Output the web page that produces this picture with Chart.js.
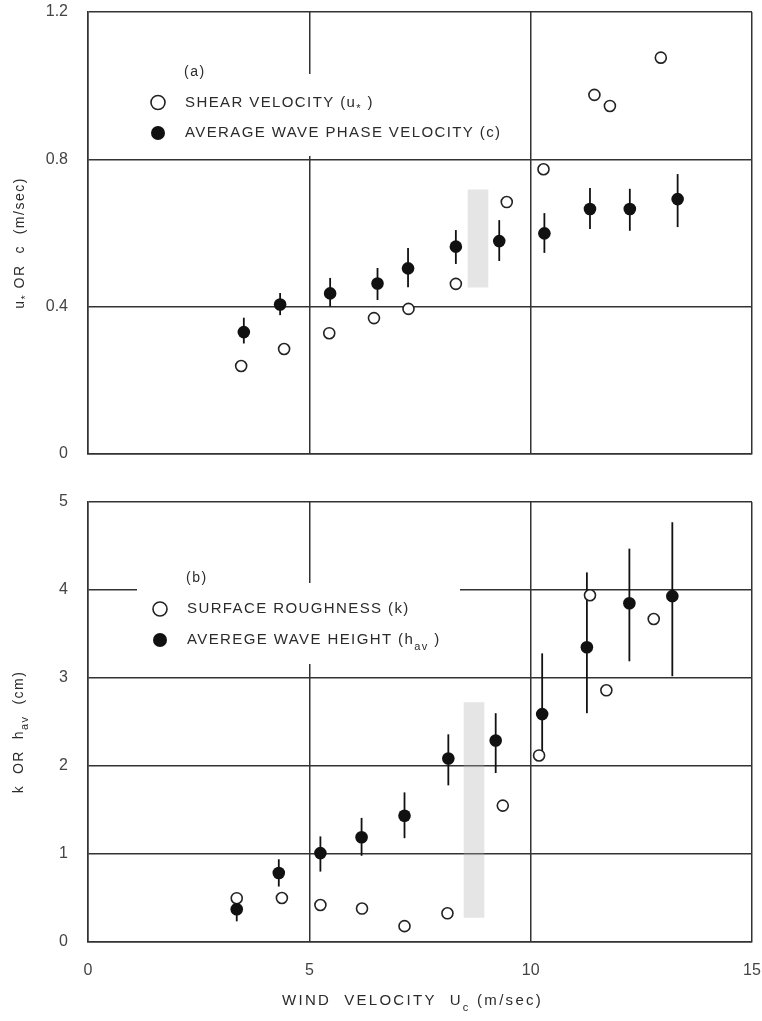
<!DOCTYPE html>
<html>
<head>
<meta charset="utf-8">
<script src="https://cdn.jsdelivr.net/npm/chart.js@4.4.0/dist/chart.umd.min.js"></script>
<style>
  html, body { margin: 0; padding: 0; background: #fff; }
  #wrap { position: relative; width: 762px; height: 1021px; }
  .panel { position: absolute; left: 0; width: 762px; }
  #pa { top: 0; height: 470px; }
  #pb { top: 480px; height: 541px; }
</style>
</head>
<body>
<div id="wrap">
  <div class="panel" id="pa"><canvas id="chartA"></canvas></div>
  <div class="panel" id="pb"><canvas id="chartB"></canvas></div>
</div>
<script>
// ---- data, panel (a) ----
const windPhase = [3.52, 4.34, 5.47, 6.54, 7.23, 8.31, 9.29, 10.31, 11.34, 12.24, 13.32];
const phaseVel  = [0.331, 0.406, 0.436, 0.463, 0.504, 0.563, 0.578, 0.599, 0.665, 0.665, 0.692];
const phaseLow  = [0.300, 0.377, 0.400, 0.418, 0.453, 0.516, 0.524, 0.546, 0.611, 0.606, 0.616];
const phaseHigh = [0.370, 0.437, 0.478, 0.505, 0.559, 0.608, 0.635, 0.654, 0.722, 0.720, 0.760];
const windShear = [3.46, 4.43, 5.45, 6.46, 7.24, 8.31, 9.46, 10.29, 11.44, 11.79, 12.94];
const shearVel  = [0.239, 0.285, 0.328, 0.369, 0.394, 0.462, 0.684, 0.773, 0.975, 0.945, 1.076];
const bandXA = 8.81;
const bandYA = [0.453, 0.717];

// ---- data, panel (b) ----
const windHeight = [3.36, 4.31, 5.25, 6.18, 7.15, 8.14, 9.21, 10.26, 11.27, 12.23, 13.20];
const waveHeight = [0.373, 0.784, 1.01, 1.19, 1.434, 2.086, 2.29, 2.59, 3.35, 3.85, 3.93];
const heightLow  = [0.235, 0.63, 0.80, 0.98, 1.18, 1.78, 1.92, 2.13, 2.60, 3.19, 3.02];
const heightHigh = [0.51, 0.94, 1.20, 1.41, 1.70, 2.36, 2.60, 3.28, 4.20, 4.47, 4.77];
const windRough  = [3.36, 4.38, 5.25, 6.19, 7.15, 8.12, 9.37, 10.19, 11.34, 11.71, 12.78];
const roughness  = [0.498, 0.50, 0.42, 0.38, 0.18, 0.326, 1.55, 2.12, 3.94, 2.86, 3.67];
const bandXB = 8.72;
const bandYB = [0.28, 2.72];

// ---- tick labels ----
const xTicks  = ['0', '5', '10', '15'];
const yTicksA = ['0', '0.4', '0.8', '1.2'];
const yTicksB = ['0', '1', '2', '3', '4', '5'];

const FONT = '"Liberation Sans", Arial, Helvetica, sans-serif';
const INK = '#2b2b2b';
const GRID = '#333';

function toPoints(xs, ys) {
    return xs.map((x, i) => ({ x: x, y: ys[i] }));
}

// draw text made of parts, some of them subscripts; returns width
function richText(ctx, parts, x, y, size, spacing, measureOnly) {
    let w = 0;
    parts.forEach(p => {
        const s = p.sub ? Math.round(size * 0.75) : size;
        ctx.font = s + 'px ' + FONT;
        ctx.letterSpacing = spacing + 'px';
        if (!measureOnly) ctx.fillText(p.t, x + w, p.sub ? y + size * 0.45 : y);
        w += ctx.measureText(p.t).width;
    });
    ctx.letterSpacing = '0px';
    return w;
}

// no auto padding from the tick labels, keep the plot box where it is
function noPad(s) {
    s.paddingTop = 0;
    s.paddingBottom = 0;
    s.paddingLeft = 0;
    s.paddingRight = 0;
}

// white boxes behind the legend, error bars, legend and titles
const underlay = {
    id: 'underlay',
    beforeDatasetsDraw(chart, args, opts) {
        const ctx = chart.ctx;
        const xs = chart.scales.x, ys = chart.scales.y;
        ctx.save();
        ctx.fillStyle = '#fff';
        const m = opts.mask;
        ctx.fillRect(m[0], m[1], m[2] - m[0], m[3] - m[1]);
        ctx.strokeStyle = '#111';
        ctx.lineWidth = 1.8;
        opts.errX.forEach((x, i) => {
            const px = xs.getPixelForValue(x);
            ctx.beginPath();
            ctx.moveTo(px, ys.getPixelForValue(opts.errLow[i]));
            ctx.lineTo(px, ys.getPixelForValue(opts.errHigh[i]));
            ctx.stroke();
        });
        ctx.restore();
    },
    afterDraw(chart, args, opts) {
        const ctx = chart.ctx;
        ctx.save();
        ctx.fillStyle = INK;
        ctx.textBaseline = 'middle';
        const L = opts.legend;
        richText(ctx, [{ t: L.tag }], L.x + 26, L.y0, 14, 1.5);
        L.items.forEach((it, i) => {
            const y = L.y0 + (i + 1) * L.dy;
            ctx.beginPath();
            ctx.arc(L.x, y, 7, 0, Math.PI * 2);
            if (it.filled) {
                ctx.fillStyle = '#111';
                ctx.fill();
            } else {
                ctx.fillStyle = '#fff';
                ctx.fill();
                ctx.strokeStyle = '#222';
                ctx.lineWidth = 1.6;
                ctx.stroke();
            }
            ctx.fillStyle = INK;
            richText(ctx, it.parts, L.x + 27, y, 15, 1.4);
        });
        // rotated y title
        const T = opts.yTitle;
        ctx.translate(T.x, T.y);
        ctx.rotate(-Math.PI / 2);
        const w = richText(ctx, T.parts, 0, 0, 14, 1.5, true);
        richText(ctx, T.parts, -w / 2, 0, 14, 1.5);
        ctx.setTransform(1, 0, 0, 1, 0, 0);
        if (opts.xTitle) {
            const X = opts.xTitle;
            richText(ctx, X.parts, X.x, X.y, 15, 2.3);
        }
        ctx.restore();
    }
};

function buildChart(id, o) {
    return new Chart(document.getElementById(id), {
        type: 'scatter',
        data: {
            datasets: [
                {
                    data: toPoints(o.fillX, o.fillY),
                    pointRadius: 6.3,
                    pointBackgroundColor: '#111',
                    pointBorderColor: '#111',
                    pointBorderWidth: 0
                },
                {
                    data: toPoints(o.openX, o.openY),
                    pointRadius: 5.5,
                    pointBackgroundColor: '#fff',
                    pointBorderColor: '#222',
                    pointBorderWidth: 1.6
                },
                {
                    type: 'bar',
                    data: [{ x: o.bandX, y: o.bandY }],
                    backgroundColor: 'rgba(175,175,175,0.33)',
                    barThickness: 20,
                    borderWidth: 0
                }
            ]
        },
        options: {
            responsive: true,
            maintainAspectRatio: false,
            animation: false,
            events: [],
            layout: { padding: { top: o.padTop, right: 10, left: 0, bottom: 0 } },
            plugins: {
                legend: { display: false },
                tooltip: { enabled: false },
                underlay: o.deco
            },
            scales: {
                x: {
                    type: 'linear',
                    min: 0, max: 15,
                    offset: false,
                    afterFit: s => { s.height = o.xHeight; noPad(s); },
                    ticks: {
                        display: o.showX,
                        stepSize: 5,
                        padding: 19,
                        color: '#444',
                        font: { family: FONT, size: 16 },
                        maxRotation: 0,
                        callback: (v, i) => xTicks[i]
                    },
                    grid: { color: GRID, lineWidth: 1.5, drawTicks: false, offset: false },
                    border: { color: GRID, width: 1.5 }
                },
                y: {
                    min: 0, max: o.yMax,
                    afterFit: s => { s.width = 88; noPad(s); },
                    ticks: {
                        stepSize: o.yStep,
                        padding: 20,
                        color: '#444',
                        font: { family: FONT, size: 16 },
                        callback: (v, i) => o.yLabels[i]
                    },
                    grid: { color: GRID, lineWidth: 1.5, drawTicks: false },
                    border: { color: GRID, width: 1.5 }
                }
            }
        },
        plugins: [underlay]
    });
}

// Panel (a)
buildChart('chartA', {
    fillX: windPhase, fillY: phaseVel,
    openX: windShear, openY: shearVel,
    bandX: bandXA, bandY: bandYA,
    yMax: 1.2, yStep: 0.4, yLabels: yTicksA,
    padTop: 12, xHeight: 16, showX: false,
    deco: {
        mask: [140, 74, 510, 156],
        errX: windPhase, errLow: phaseLow, errHigh: phaseHigh,
        legend: {
            x: 158, y0: 72, dy: 30.5, tag: '(a)',
            items: [
                { filled: false, parts: [{ t: 'SHEAR VELOCITY (u' }, { t: '*', sub: true }, { t: ' )' }] },
                { filled: true, parts: [{ t: 'AVERAGE WAVE PHASE VELOCITY (c)' }] }
            ]
        },
        yTitle: { x: 20, y: 243, parts: [{ t: 'u' }, { t: '*', sub: true }, { t: ' OR  c  (m/sec)' }] }
    }
});

// Panel (b)
buildChart('chartB', {
    fillX: windHeight, fillY: waveHeight,
    openX: windRough, openY: roughness,
    bandX: bandXB, bandY: bandYB,
    yMax: 5, yStep: 1, yLabels: yTicksB,
    padTop: 22, xHeight: 79, showX: true,
    deco: {
        mask: [137, 103, 460, 184],
        errX: windHeight, errLow: heightLow, errHigh: heightHigh,
        legend: {
            x: 160, y0: 98, dy: 31, tag: '(b)',
            items: [
                { filled: false, parts: [{ t: 'SURFACE ROUGHNESS (k)' }] },
                { filled: true, parts: [{ t: 'AVEREGE WAVE HEIGHT (h' }, { t: 'av', sub: true }, { t: ' )' }] }
            ]
        },
        yTitle: { x: 19, y: 252, parts: [{ t: 'k  OR  h' }, { t: 'av', sub: true }, { t: '  (cm)' }] },
        xTitle: { x: 282, y: 521, parts: [{ t: 'WIND  VELOCITY  U' }, { t: 'c', sub: true }, { t: ' (m/sec)' }] }
    }
});
</script>
</body>
</html>
